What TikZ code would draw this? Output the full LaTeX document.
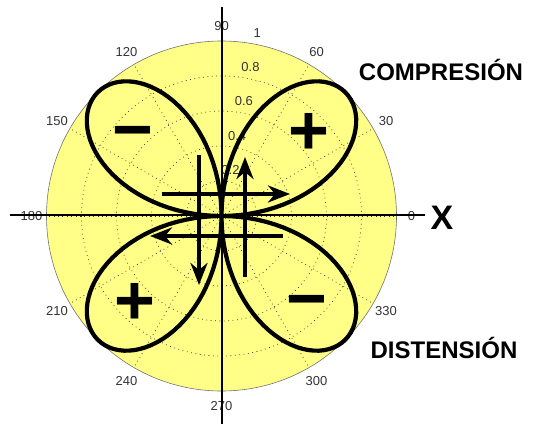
\documentclass[tikz,border=0pt]{standalone}
\usepackage{fontspec}
\setmainfont{Liberation Sans}
\usetikzlibrary{arrows.meta}

\definecolor{diskyellow}{RGB}{255,255,135}

\begin{document}
\begin{tikzpicture}[x=1pt, y=1pt, >=Stealth,
    gridline/.style={black!80, line width=0.7pt, dash pattern=on 0.8pt off 3.6pt},
    lobe/.style={line width=4.2pt, line join=round},
    couple/.style={line width=4.8pt, -{Stealth[length=22pt,width=17pt,inset=7pt]}},
    axisline/.style={line width=2.6pt},
    anglelabel/.style={font=\fontsize{13}{13}\selectfont, text=black!80,
                       text height=9.3pt, text depth=0pt, inner sep=0pt},
    biglabel/.style={font=\fontsize{24}{24}\selectfont\bfseries,
                     text height=17.2pt, text depth=0pt, inner sep=0pt},
    bigsign/.style={font=\fontsize{70}{70}\selectfont\bfseries, inner sep=0pt, anchor=base}]
  \useasboundingbox (0,0) rectangle (535,424);
  \def\R{175}

  % Polar disk with its grid
  \begin{scope}[shift={(221.5,208)}]
    \fill[diskyellow] (0,0) circle (\R);
    \draw[black!55, line width=0.6pt] (0,0) circle (\R);
    \foreach \r in {0.2,0.4,0.6,0.8}
      \draw[gridline] (0,0) circle ({\r*\R});
    \foreach \a in {0,30,...,330}
      \draw[gridline] (0,0) -- (\a:\R);

    % angle and radius labels
    \foreach \a in {0,30,...,330}
      \node[anglelabel] (ang\a) at (\a:190) {\a};
    \foreach \r in {0.2,0.4,0.6,0.8}
      \node[anglelabel] (rad\r) at (79:{\r*\R+12}) {\r};
    \node[anglelabel] (rad1) at (79:{\R+12}) {1};

    % Radiation pattern: four lobes
    \draw[lobe] plot[domain=0:360, samples=241] (\x:{\R*abs(sin(2*\x))});
  \end{scope}

  % Axes
  \coordinate (xl) at (10,209);
  \coordinate (xr) at (425,209);
  \coordinate (yt) at (222,417);
  \coordinate (yb) at (222,0);
  \draw[axisline] (xl) -- (xr);
  \draw[axisline] (yt) -- (yb);
  \node[font=\fontsize{34}{34}\selectfont\bfseries, text height=24.4pt,
        text depth=0pt, inner sep=0pt] (xname) at (442,207) {X};

  % Double couple of forces
  \coordinate (ta) at (162,230);  \coordinate (ha) at (290,230);
  \coordinate (tb) at (283,188);  \coordinate (hb) at (150,188);
  \coordinate (tc) at (199,269);  \coordinate (hc) at (199,139);
  \coordinate (td) at (245,147);  \coordinate (hd) at (245,267);
  \draw[couple] (ta) -- (ha);
  \draw[couple] (tb) -- (hb);
  \draw[couple] (tc) -- (hc);
  \draw[couple] (td) -- (hd);

  % Signs of the first motion
  \node[bigsign] (sgnA) at (133,271) {−};
  \node[bigsign] (sgnB) at (309,270) {+};
  \node[bigsign] (sgnC) at (135,100) {+};
  \node[bigsign] (sgnD) at (307,102) {−};

  % Zones
  \node[biglabel] (comp) at (441,352) {COMPRESIÓN};
  \node[biglabel] (dist) at (444,74) {DISTENSIÓN};
\end{tikzpicture}
\end{document}
